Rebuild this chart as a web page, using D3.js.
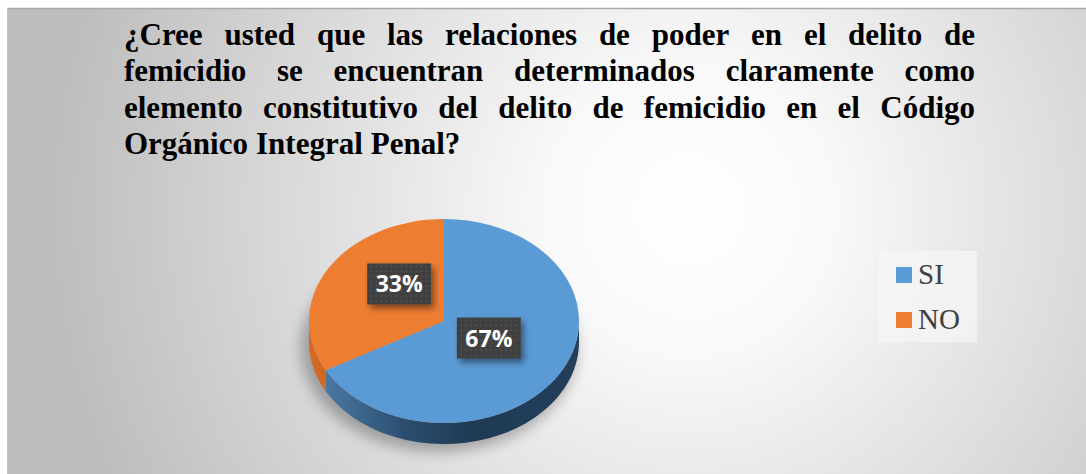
<!DOCTYPE html>
<html><head><meta charset="utf-8">
<script src="https://cdn.jsdelivr.net/npm/d3@7"></script>
<style>
html,body{margin:0;padding:0;background:#fff;}
svg{display:block;}
</style></head>
<body>
<svg id="chart" width="1086" height="474"></svg>
<script>
// ---- data ----
const categories = ["SI", "NO"];
const values = [67, 33];
const labels = ["67%", "33%"];
const colors = ["#5b9bd5", "#ed7d31"];
const titleLines = [
  "¿Cree usted que las relaciones de poder en el delito de",
  "femicidio se encuentran determinados claramente como",
  "elemento constitutivo del delito de femicidio en el Código",
  "Orgánico Integral Penal?"
];

const W = 1086, H = 474;
const svg = d3.select("#chart");
const defs = svg.append("defs");

// background radial gradient
const bg = defs.append("radialGradient").attr("id","bgGrad")
  .attr("gradientUnits","userSpaceOnUse").attr("cx",690).attr("cy",210).attr("r",640);
bg.append("stop").attr("offset","0").attr("stop-color","#ffffff");
bg.append("stop").attr("offset","0.22").attr("stop-color","#f9f9f9");
bg.append("stop").attr("offset","1").attr("stop-color","#bdbdbd");

svg.append("rect").attr("x",7).attr("y",8).attr("width",W-7).attr("height",H-8)
  .attr("fill","url(#bgGrad)");
svg.append("line").attr("x1",7).attr("x2",W).attr("y1",8.5).attr("y2",8.5)
  .attr("stroke","#a9a9a9").attr("stroke-width",1.5);
svg.append("line").attr("x1",7.5).attr("x2",7.5).attr("y1",8).attr("y2",H)
  .attr("stroke","#c4c4c4").attr("stroke-width",1);

// ---- title (justified) ----
const titleX0 = 124, titleX1 = 975, titleY0 = 45, lineH = 36.3;
const tg = svg.append("g").attr("font-family","'Liberation Serif','Times New Roman',serif")
  .attr("font-weight","bold").attr("font-size",31).attr("fill","#000");
titleLines.forEach((line, li) => {
  const words = line.split(" ");
  const y = titleY0 + li*lineH;
  const nodes = words.map(w => tg.append("text").attr("y", y).text(w));
  const widths = nodes.map(n => n.node().getComputedTextLength());
  const total = d3.sum(widths);
  const justify = li < titleLines.length - 1;
  const gap = justify ? (titleX1 - titleX0 - total)/(words.length-1) : 8;
  let x = titleX0;
  nodes.forEach((n,i) => { n.attr("x", x); x += widths[i] + gap; });
});

// ---- 3D pie ----
const cx = 444, cy = 321, rx = 135, ry = 102, depth = 21;
const pie = d3.pie().sort(null).value(d => d)(values);
const px = a => cx + rx*Math.sin(a);
const py = (a, dz=0) => cy - ry*Math.cos(a) + dz;

// shadow
const blur = defs.append("filter").attr("id","blur").attr("x","-30%").attr("y","-30%").attr("width","160%").attr("height","160%");
blur.append("feGaussianBlur").attr("stdDeviation",7);
svg.append("ellipse").attr("cx",cx-5).attr("cy",cy+depth+6).attr("rx",rx+3).attr("ry",ry+2)
  .attr("fill","#000").attr("opacity",0.28).attr("filter","url(#blur)");

// side gradients
const sideStops = [
  ["#4f80ae","#2c4f70","#1f3a53","#243f5a"],
  ["#d66a22","#b5561a","#9a4713","#a04a14"]
];
sideStops.forEach((st,i) => {
  const g = defs.append("linearGradient").attr("id","side"+i)
    .attr("gradientUnits","userSpaceOnUse").attr("x1",cx-rx).attr("x2",cx+rx).attr("y1",0).attr("y2",0);
  [0,0.35,0.6,1].forEach((o,k) => g.append("stop").attr("offset",o).attr("stop-color",st[k]));
});

const sideG = svg.append("g");
pie.forEach((d,i) => {
  const s = Math.max(d.startAngle, Math.PI/2), e = Math.min(d.endAngle, 3*Math.PI/2);
  if (e <= s) return;
  const n = 60, p = d3.path();
  for (let k=0;k<=n;k++){ const a = s + (e-s)*k/n; k===0 ? p.moveTo(px(a),py(a)) : p.lineTo(px(a),py(a)); }
  for (let k=n;k>=0;k--){ const a = s + (e-s)*k/n; p.lineTo(px(a),py(a,depth)); }
  p.closePath();
  sideG.append("path").attr("d",p.toString()).attr("fill","url(#side"+i+")");
});

// top faces
const arc = d3.arc().innerRadius(0).outerRadius(rx);
svg.append("g").attr("transform",`translate(${cx},${cy}) scale(1,${ry/rx})`)
  .selectAll("path").data(pie).join("path")
  .attr("d",arc).attr("fill",(d,i)=>colors[i]);

// ---- data labels ----
const pat = defs.append("pattern").attr("id","dots").attr("patternUnits","userSpaceOnUse")
  .attr("width",5).attr("height",5);
pat.append("rect").attr("width",5).attr("height",5).attr("fill","#404040");
pat.append("rect").attr("x",1.5).attr("y",1.5).attr("width",1.4).attr("height",1.4).attr("fill","#575757");
const ds = defs.append("filter").attr("id","lblShadow").attr("x","-30%").attr("y","-30%").attr("width","170%").attr("height","180%");
ds.append("feDropShadow").attr("dx",3).attr("dy",4).attr("stdDeviation",3).attr("flood-color","#000").attr("flood-opacity",0.45);

const labelArc = d3.arc().innerRadius(0).outerRadius(rx*0.85);
const angShift = 8*Math.PI/180;
const bw = 64, bh = 41;
const lg = svg.append("g");
pie.forEach((d,i) => {
  const [lx, ly0] = labelArc.centroid({startAngle:d.startAngle+angShift, endAngle:d.endAngle+angShift});
  const mx = cx + lx, my = cy + ly0*(ry/rx) - 10;
  const g = lg.append("g").attr("transform",`translate(${mx},${my})`);
  g.append("rect").attr("x",-bw/2).attr("y",-bh/2).attr("width",bw).attr("height",bh)
    .attr("fill","url(#dots)").attr("filter","url(#lblShadow)");
  g.append("text").attr("text-anchor","middle").attr("y",8.5)
    .attr("font-family","'Open Sans','DejaVu Sans',sans-serif").attr("font-weight","bold")
    .attr("font-size",23).attr("fill","#fff").text(labels[i]);
});

// ---- legend ----
const leg = svg.append("g");
leg.append("rect").attr("x",878).attr("y",251).attr("width",99).attr("height",91)
  .attr("fill","#f6f6f6").attr("opacity",0.7);
const legY = d3.scalePoint().domain(categories).range([275, 320]);
categories.forEach((c,i) => {
  leg.append("rect").attr("x",896).attr("y",legY(c)-8).attr("width",16).attr("height",16).attr("fill",colors[i]);
  leg.append("text").attr("x",918).attr("y",legY(c)+9)
    .attr("font-family","'Liberation Serif','Times New Roman',serif").attr("font-size",29)
    .attr("fill","#404040").text(c);
});
</script>
</body></html>
